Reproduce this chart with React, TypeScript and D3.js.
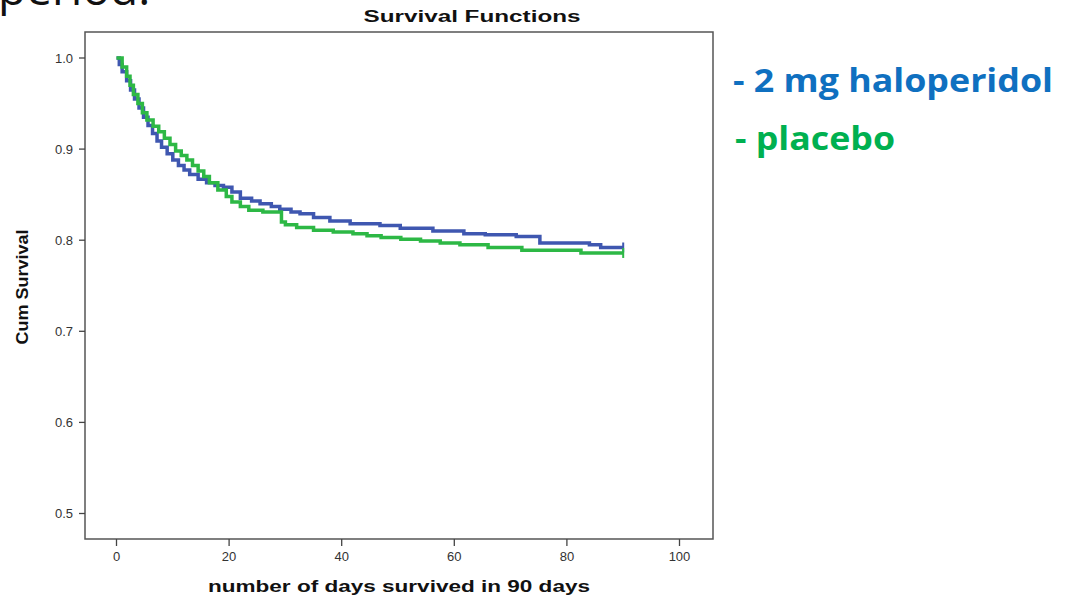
import React from "react";
import * as d3 from "d3";

// step points: [day, cumulative survival]
const haloDays = [0, 0.5, 1, 1.8, 2.5, 3.2, 4, 4.8, 5.6, 6.4, 7.2, 8, 9, 10, 11, 12, 13, 14.5, 16, 17.5, 19, 20.5, 22, 24, 25.5, 27.5, 29, 31, 32.6, 35, 37.9, 41.5, 46.8, 50.4, 56.2, 61.7, 65.5, 71, 75.2, 84, 86, 90];
const haloSurv = [1.0, 0.993, 0.985, 0.975, 0.965, 0.955, 0.945, 0.935, 0.926, 0.917, 0.909, 0.902, 0.895, 0.888, 0.882, 0.877, 0.872, 0.867, 0.863, 0.86, 0.858, 0.853, 0.846, 0.843, 0.84, 0.837, 0.834, 0.831, 0.829, 0.825, 0.821, 0.818, 0.816, 0.813, 0.81, 0.807, 0.806, 0.804, 0.797, 0.795, 0.792, 0.792];

const placeboDays = [0, 1, 1.8, 2.4, 3, 3.8, 4.6, 5.4, 6.5, 7.5, 8.5, 9.5, 10.5, 11.5, 12.5, 13.5, 14.5, 15.5, 16.5, 18, 19.5, 20.5, 22, 23.5, 26, 29.3, 30, 32, 35, 38.5, 42, 44.5, 47, 50.5, 54, 57.5, 61, 66, 72, 82.5, 90];
const placeboSurv = [1.0, 0.99, 0.98, 0.97, 0.96, 0.95, 0.94, 0.932, 0.925, 0.919, 0.912, 0.905, 0.898, 0.893, 0.888, 0.882, 0.876, 0.87, 0.863, 0.855, 0.848, 0.842, 0.837, 0.833, 0.831, 0.82, 0.817, 0.814, 0.811, 0.809, 0.807, 0.805, 0.803, 0.801, 0.799, 0.797, 0.795, 0.792, 0.789, 0.786, 0.786];

const xTicks = [0, 20, 40, 60, 80, 100];
const yTicks = [0.5, 0.6, 0.7, 0.8, 0.9, 1.0];

const series = [
  { name: "haloperidol", days: haloDays, surv: haloSurv, color: "#3f57b0" },
  { name: "placebo", days: placeboDays, surv: placeboSurv, color: "#2db845" },
];

const App = () => {
  const frame = { left: 85, right: 713, top: 32, bottom: 539 };

  // x: 0 -> 116.5px, 100 -> 679.5px
  const x = d3.scaleLinear().domain([0, 100]).range([116.5, 679.5]);
  // y: 1.0 -> 58px, 0.5 -> 513.5px
  const y = d3.scaleLinear().domain([0.5, 1.0]).range([513.5, 58]);

  const line = d3
    .line<[number, number]>()
    .x((d) => x(d[0]))
    .y((d) => y(d[1]))
    .curve(d3.curveStepAfter);

  return (
    <svg
      width={1070}
      height={596}
      style={{ position: "absolute", left: 0, top: 0, background: "#fff" }}
    >
      {/* cut-off slide text at the top */}
      <text x={-2} y={5} fontFamily="Open Sans, sans-serif" fontSize={46} fill="#111">
        period:
      </text>

      <text
        x={472}
        y={22}
        textAnchor="middle"
        fontFamily="Liberation Sans, Arial, sans-serif"
        fontWeight="bold"
        fontSize={16}
        textLength={217}
        lengthAdjust="spacingAndGlyphs"
        fill="#111"
      >
        Survival Functions
      </text>

      {/* frame */}
      <rect
        x={frame.left}
        y={frame.top}
        width={frame.right - frame.left}
        height={frame.bottom - frame.top}
        fill="#fff"
        stroke="#555"
        strokeWidth={1.5}
      />

      {/* y axis */}
      {yTicks.map((t) => (
        <g key={t}>
          <line x1={frame.left - 6} x2={frame.left} y1={y(t)} y2={y(t)} stroke="#444" strokeWidth={1.3} />
          <text
            x={frame.left - 12}
            y={y(t) + 4.5}
            textAnchor="end"
            fontFamily="Liberation Sans, Arial, sans-serif"
            fontSize={13}
            fill="#333"
          >
            {d3.format(".1f")(t)}
          </text>
        </g>
      ))}

      {/* x axis */}
      {xTicks.map((t) => (
        <g key={t}>
          <line x1={x(t)} x2={x(t)} y1={frame.bottom} y2={frame.bottom + 7} stroke="#444" strokeWidth={1.3} />
          <text
            x={x(t)}
            y={frame.bottom + 22}
            textAnchor="middle"
            fontFamily="Liberation Sans, Arial, sans-serif"
            fontSize={13}
            fill="#333"
          >
            {t}
          </text>
        </g>
      ))}

      <text
        x={399}
        y={592}
        textAnchor="middle"
        fontFamily="Liberation Sans, Arial, sans-serif"
        fontWeight="bold"
        fontSize={16}
        textLength={382}
        lengthAdjust="spacingAndGlyphs"
        fill="#111"
      >
        number of days survived in 90 days
      </text>

      <text
        transform={`translate(28, 287) rotate(-90)`}
        textAnchor="middle"
        fontFamily="Liberation Sans, Arial, sans-serif"
        fontWeight="bold"
        fontSize={16}
        textLength={115}
        lengthAdjust="spacingAndGlyphs"
        fill="#111"
      >
        Cum Survival
      </text>

      {/* survival curves */}
      {series.map((s) => {
        const pts = s.days.map((d, i) => [d, s.surv[i]] as [number, number]);
        const last = pts[pts.length - 1];
        return (
          <g key={s.name}>
            <path d={line(pts) || ""} fill="none" stroke={s.color} strokeWidth={3.5} />
            <line
              x1={x(last[0])}
              x2={x(last[0])}
              y1={y(last[1]) - 5}
              y2={y(last[1]) + 5}
              stroke={s.color}
              strokeWidth={2}
            />
          </g>
        );
      })}

      {/* legend text */}
      <text
        x={733}
        y={92}
        fontFamily="Open Sans, sans-serif"
        fontWeight="bold"
        fontSize={33}
        textLength={320}
        lengthAdjust="spacingAndGlyphs"
        fill="#0f70c0"
      >
        - 2 mg haloperidol
      </text>
      <text
        x={735}
        y={150}
        fontFamily="Open Sans, sans-serif"
        fontWeight="bold"
        fontSize={33}
        textLength={160}
        lengthAdjust="spacingAndGlyphs"
        fill="#00b050"
      >
        - placebo
      </text>
    </svg>
  );
};

export default App;
